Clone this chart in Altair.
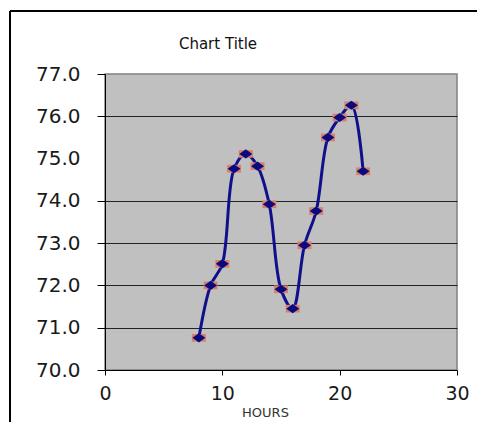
import altair as alt
import pandas as pd

hours = [8, 9, 10, 11, 12, 13, 14, 15, 16, 17, 18, 19, 20, 21, 22]
temps = [70.76, 72.0, 72.51, 74.76, 75.11, 74.82, 73.92, 71.91, 71.45, 72.95, 73.76, 75.5, 75.97, 76.26, 74.7]
y_ticks = [70, 71, 72, 73, 74, 75, 76, 77]
x_ticks = [0, 10, 20, 30]
title_text = "Chart Title"
x_title = "HOURS"

df = pd.DataFrame({"h": hours, "t": temps})
FONT = "DejaVu Sans"
hidden = "datum.value == 75 || datum.value == 70 || datum.value == 77"

x_enc = alt.X("h:Q", scale=alt.Scale(domain=[0, 30], nice=False),
              axis=alt.Axis(values=x_ticks, title=x_title, grid=False, format="d",
                            domainColor="black", tickColor="black", tickSize=5,
                            labelPadding=9, labelFlush=False, labelFont=FONT, labelFontSize=19,
                            labelColor="#1a1a1a", titleFont=FONT, titleFontSize=13,
                            titleFontWeight="normal", titleColor="#333333",
                            titleX=160, titlePadding=3))
y_enc = alt.Y("t:Q", scale=alt.Scale(domain=[70, 77], nice=False, zero=False),
              axis=alt.Axis(values=y_ticks, title=None, format=".1f", labelFlush=False,
                            grid=True, gridColor="#222222", gridWidth=1.2,
                            gridOpacity=alt.condition(hidden, alt.value(0), alt.value(1)),
                            tickOpacity=alt.condition("datum.value == 75", alt.value(0), alt.value(1)),
                            domainColor="black", tickColor="black", tickSize=8,
                            labelPadding=17, labelFont=FONT, labelFontSize=20,
                            labelColor="#1a1a1a"))

base = alt.Chart(df).encode(x=x_enc, y=y_enc)

line = base.mark_line(interpolate="catmull-rom", color="#10108c", strokeWidth=3)
rects = base.mark_point(shape="M-1,-0.55L1,-0.55L1,0.55L-1,0.55Z", filled=True,
                        color="#d8806c", opacity=1, size=196)
diamonds = base.mark_point(shape="M-1,0L0,-0.7L1,0L0,0.7Z", filled=True,
                           color="#0a0a80", opacity=1, size=170)

frame_left = alt.Chart(df).mark_rule(color="black", strokeWidth=2).encode(
    x=alt.value(-95), y=alt.value(-63), y2=alt.value(420))
frame_top = alt.Chart(df).mark_rule(color="black", strokeWidth=2).encode(
    x=alt.value(-95), x2=alt.value(420), y=alt.value(-63))

chart = alt.layer(line, rects, diamonds, frame_left, frame_top).properties(
    width=352, height=296,
    title=alt.TitleParams(title_text, font=FONT, fontSize=15, fontWeight="normal",
                          color="#111111", anchor="middle", dx=-63, dy=46),
    autosize=alt.AutoSizeParams(type="none"),
    padding={"left": 97, "top": 66, "right": 20, "bottom": 52},
).configure(background="white").configure_view(fill="#c0c0c0", stroke="#808080", strokeWidth=1.5)

chart.save("out.html", embed_options={"renderer": "svg", "actions": False})
